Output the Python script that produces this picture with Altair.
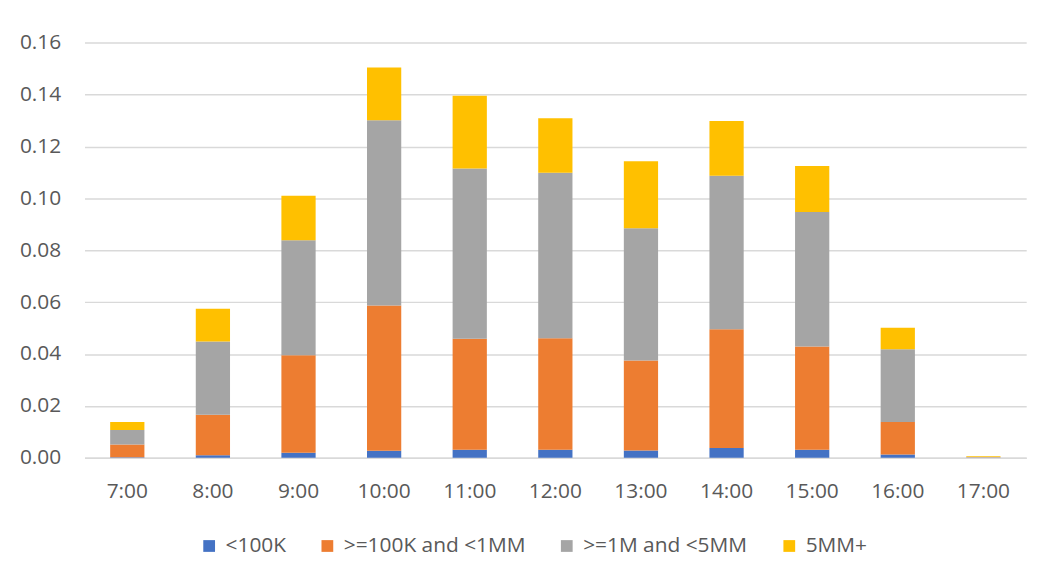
import altair as alt
import pandas as pd

hours = ["7:00", "8:00", "9:00", "10:00", "11:00", "12:00", "13:00", "14:00", "15:00", "16:00", "17:00"]
series = ["<100K", ">=100K and <1MM", ">=1M and <5MM", "5MM+"]
colors = ["#4472C4", "#ED7D31", "#A5A5A5", "#FFC000"]

under_100k = [0.0002, 0.0010, 0.0020, 0.0027, 0.0031, 0.0031, 0.0028, 0.0038, 0.0031, 0.0013, 0.0000]
k100_to_1mm = [0.0049, 0.0156, 0.0375, 0.0560, 0.0428, 0.0430, 0.0347, 0.0457, 0.0398, 0.0125, 0.0001]
m1_to_5mm = [0.0056, 0.0282, 0.0443, 0.0714, 0.0656, 0.0638, 0.0510, 0.0592, 0.0518, 0.0280, 0.0002]
mm5_plus = [0.0031, 0.0126, 0.0172, 0.0203, 0.0280, 0.0210, 0.0258, 0.0211, 0.0178, 0.0083, 0.0003]

rows = []
for si, (name, vals) in enumerate(zip(series, [under_100k, k100_to_1mm, m1_to_5mm, mm5_plus])):
    for h, v in zip(hours, vals):
        rows.append({"hour": h, "series": name, "value": v, "order": si})
df = pd.DataFrame(rows)

FONT = "Open Sans"
TXT = "#595959"

chart = alt.Chart(df).mark_bar().encode(
    x=alt.X("hour:N", sort=hours, title=None,
            scale=alt.Scale(paddingInner=0.6, paddingOuter=0.3),
            axis=alt.Axis(labelAngle=0, labelPadding=23, ticks=False, domain=True,
                          domainColor="#D9D9D9", domainWidth=1.5)),
    y=alt.Y("value:Q", stack="zero", title=None,
            scale=alt.Scale(domain=[0, 0.16], nice=False),
            axis=alt.Axis(values=[0, 0.02, 0.04, 0.06, 0.08, 0.10, 0.12, 0.14, 0.16],
                          format=".2f", ticks=False, domain=False, labelPadding=24,
                          gridColor="#D9D9D9", gridWidth=1.5)),
    color=alt.Color("series:N", sort=series,
                    scale=alt.Scale(domain=series, range=colors),
                    legend=alt.Legend(title=None, orient="none", direction="horizontal",
                                      legendX=115, legendY=496, symbolType="square",
                                      symbolSize=140, symbolStrokeWidth=0,
                                      columnPadding=31, labelOffset=6, labelLimit=0)),
    order=alt.Order("order:Q", sort="ascending"),
).properties(
    width=948, height=418,
    autosize=alt.AutoSizeParams(type="none"),
    padding={"left": 77, "top": 33, "right": 30, "bottom": 100},
).configure_axis(
    labelFont=FONT, labelFontSize=21, labelColor=TXT,
).configure_legend(
    labelFont=FONT, labelFontSize=21, labelColor=TXT,
).configure_view(stroke=None)

chart.save("out.html", embed_options={"renderer": "svg", "actions": False})
